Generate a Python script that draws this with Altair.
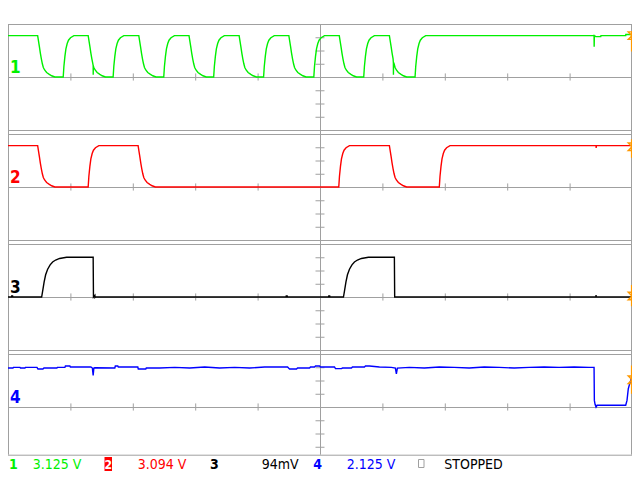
import altair as alt
import pandas as pd

# ---------------- data ----------------
# time: record sample index 0..625 (62.5 samples per division, 10 divisions)
# levels: vertical divisions above each channel's ground line (8 divisions per window)
N_SAMPLES = 625
DIV_T = 62.5

# edge shapes: (sample offset, fraction of swing)
FALL_DT = [0, 1.7, 2.7, 3.7, 4.7, 5.7, 7, 9, 11.7, 14, 17.3]
FALL_F = [1, 0.74, 0.58, 0.44, 0.32, 0.23, 0.17, 0.11, 0.065, 0.03, 0]
RISE_DT = [0, 0.7, 1.7, 2.7, 4, 5.3, 7.3, 10.7]
RISE_F = [0, 0.26, 0.5, 0.68, 0.81, 0.89, 0.95, 1]
SLOW_DT = [0, 1, 2.5, 4, 6, 8.5, 11, 14, 18, 25]
SLOW_F = [0, 0.15, 0.38, 0.56, 0.70, 0.81, 0.88, 0.93, 0.97, 1.0]

# channel 1 (green)
CH1_HIGH = 3.12
CH1_FALLS = [29.7, 80.3, 131, 181.3, 231.5, 281.3, 331.8, 382]
CH1_RISES = [55.3, 105.3, 156, 206, 256, 306.3, 356.3, 407.7]
CH1_EXTRA_T = [85.3, 85.35, 85.45, 386.0, 386.05, 386.15, 587.0, 587.1, 587.3,
               588.7, 593.7, 593.9, 618.7, 618.8]
CH1_EXTRA_V = [0.86, 0.17, 0.82, 1.05, 0.17, 0.95, 3.12, 2.28, 3.12,
               3.05, 3.05, 3.12, 3.12, 3.21]
CH1_END = 3.21

# channel 2 (red)
CH2_HIGH = 3.12
CH2_FALLS = [29.7, 130.3, 382]
CH2_RISES = [80.3, 331.3, 432]
CH2_EXTRA_T = [589.0, 589.1, 589.3]
CH2_EXTRA_V = [3.12, 2.95, 3.12]
CH2_END = 3.12

# channel 3 (black)
CH3_HIGH = 3.0
CH3_RISES = [33.7, 336]
CH3_FALLS = [85.3, 387]
CH3_EXTRA_T = [3.5, 3.7, 4.6, 4.8, 87.0, 87.1, 87.5, 278.5, 278.7, 279.6, 279.8,
               321.1, 321.3, 322.2, 322.4, 588.9, 589.0, 589.1, 589.3]
CH3_EXTRA_V = [0, 0.08, 0.08, 0, 0.13, -0.03, 0, 0, 0.08, 0.08, 0,
               0, 0.08, 0.08, 0, 0, 0.15, -0.05, 0]
CH3_END = 0.0

# channel 4 (blue)
CH4_T = [0, 5, 5.5, 12, 12.5, 17, 17.5, 29, 30, 35, 36, 49, 49.5, 57, 57.5, 62, 62.5,
         83, 84.5, 85.3, 86, 87, 107, 107.5, 110, 110.5, 130, 130.5, 138, 138.5, 152,
         167, 182, 197, 212, 227, 242, 257, 272, 280, 281, 282, 289, 290, 302, 303,
         307, 308, 312, 313, 327, 328, 334, 335, 344, 345, 357, 358, 362, 372, 384,
         388, 389, 390, 402, 417, 432, 447, 462, 477, 492, 507, 522, 537, 552, 567,
         582, 587, 587.3, 588, 589, 590, 618.7, 620, 621.3, 622.7, 624.3, 625]
CH4_V = [2.94, 2.94, 2.99, 2.99, 2.94, 2.94, 2.99, 2.99, 2.87, 2.87, 2.94, 2.94, 2.99,
         2.99, 3.09, 3.09, 3.02, 3.02, 2.94, 2.39, 2.94, 2.96, 2.94, 3.09, 3.09, 3.02,
         3.02, 2.87, 2.87, 2.94, 2.94, 2.99, 2.94, 3.02, 2.94, 2.99, 2.94, 3.02, 3.02,
         3.02, 2.94, 2.87, 2.87, 2.94, 2.94, 3.02, 3.02, 3.09, 3.09, 3.02, 3.02, 2.90,
         2.90, 2.94, 2.94, 3.02, 3.02, 3.09, 3.09, 3.02, 2.99, 2.94, 2.5, 2.94, 2.99,
         2.94, 3.02, 2.99, 2.94, 3.02, 2.99, 2.94, 2.99, 3.02, 2.99, 3.02, 2.99, 2.99,
         0.5, 0.2, 0.0, 0.13, 0.13, 0.5, 1.38, 1.76, 2.14, 2.39]

# end-of-record markers per channel: (level, marker bar low, marker bar high)
MARKER_LVL = [3.12, 3.04, 0.08, 2.06]
MARKER_LO = [1.93, 2.2, -0.7, 1.0]
MARKER_HI = [3.44, 3.6, 0.9, 3.14]

CH_LABELS = ["1", "2", "3", "4"]
STATUS = ["3.125 V", "3.094 V", "94mV", "2.125 V", "STOPPED"]

# ---------------- styling / layout ----------------
GREEN = "#00f000"
RED = "#ff0000"
BLACK = "#000000"
BLUE = "#0000ff"
ORANGE = "#ff9900"
GRID = "#a0a0a0"
COLORS = [GREEN, RED, BLACK, BLUE]
FONT = "Liberation Sans Narrow, DejaVu Sans Condensed, sans-serif"

PLOT_W, PLOT_H = 624, 448          # screen area below the 16px top band
PX_PER_DIV = 13.25                 # vertical pixels per division
WIN = 8                            # divisions per window
PITCH = 110 / PX_PER_DIV           # window pitch (window + 4px gap), in divisions
SCREEN = PLOT_H / PX_PER_DIV       # whole screen height in divisions
LAST_BOTTOM = 3.6                  # last window drawn a little shorter (room for status line)


def row(k, v):
    """screen position (divisions from the top) of level v in window k"""
    return k * PITCH + WIN / 2 - v


def build(start, high, events, extra_t, extra_v, end_level):
    pts = [(0.0, start)]
    for t, kind in events:
        if kind == "fall":
            pts += [(t + d, high * f) for d, f in zip(FALL_DT, FALL_F)]
        elif kind == "rise":
            pts += [(t + d, high * f) for d, f in zip(RISE_DT, RISE_F)]
        elif kind == "slow":
            pts += [(t + d, high * f) for d, f in zip(SLOW_DT, SLOW_F)]
        elif kind == "drop":
            pts += [(t, high), (t + 0.3, 0.0)]
    pts += list(zip(extra_t, extra_v))
    pts.append((float(N_SAMPLES), end_level))
    pts.sort(key=lambda p: p[0])
    return [p[0] for p in pts], [p[1] for p in pts]


traces = [
    build(CH1_HIGH, CH1_HIGH,
          sorted([(t, "fall") for t in CH1_FALLS] + [(t, "rise") for t in CH1_RISES]),
          CH1_EXTRA_T, CH1_EXTRA_V, CH1_END),
    build(CH2_HIGH, CH2_HIGH,
          sorted([(t, "fall") for t in CH2_FALLS] + [(t, "rise") for t in CH2_RISES]),
          CH2_EXTRA_T, CH2_EXTRA_V, CH2_END),
    build(0.0, CH3_HIGH,
          sorted([(t, "slow") for t in CH3_RISES] + [(t, "drop") for t in CH3_FALLS]),
          CH3_EXTRA_T, CH3_EXTRA_V, CH3_END),
    (CH4_T, CH4_V),
]

XS = alt.Scale(domain=[0, N_SAMPLES], nice=False, zero=False)
YS = alt.Scale(domain=[0, SCREEN], nice=False, zero=False, reverse=True)


def X(f="t"):
    return alt.X(f"{f}:Q", scale=XS, axis=None)


def Y(f="r"):
    return alt.Y(f"{f}:Q", scale=YS, axis=None)


layers = []

# window frames (horizontal edges) and ground lines
hl = []
for k in range(4):
    bottom = LAST_BOTTOM if k == 3 else WIN / 2
    hl += [row(k, WIN / 2), row(k, -bottom), row(k, 0)]
hdf = pd.DataFrame({"r": hl, "t": 0.0, "t2": float(N_SAMPLES)})
layers.append(alt.Chart(hdf).mark_rule(color=GRID, strokeWidth=1, yOffset=0.5).encode(
    x=X(), x2="t2:Q", y=Y()))

# continuous verticals: left, centre, right
vdf = pd.DataFrame({"t": [0.0, N_SAMPLES / 2, float(N_SAMPLES)],
                    "off": [0.5, 0.5, -0.5],
                    "r": 0.0, "r2": row(3, -LAST_BOTTOM)})
for _, rr in vdf.iterrows():
    layers.append(alt.Chart(pd.DataFrame([rr])).mark_rule(
        color=GRID, strokeWidth=1, xOffset=float(rr["off"])).encode(
        x=X(), y=Y(), y2="r2:Q"))

# minor ticks on ground lines and on the centre line
xt_rows = []
yt_rows = []
for k in range(4):
    for j in range(1, 10):
        xt_rows.append({"t": DIV_T * j, "r": row(k, 0.27), "r2": row(k, -0.27)})
    for d in [-3, -2, -1, 1, 2, 3]:
        yt_rows.append({"t": N_SAMPLES / 2 - 4.5, "t2": N_SAMPLES / 2 + 4.5,
                        "r": row(k, d)})
layers.append(alt.Chart(pd.DataFrame(xt_rows)).mark_rule(
    color=GRID, strokeWidth=1, xOffset=0.5).encode(x=X(), y=Y(), y2="r2:Q"))
layers.append(alt.Chart(pd.DataFrame(yt_rows)).mark_rule(
    color=GRID, strokeWidth=1, yOffset=0.5).encode(x=X(), x2="t2:Q", y=Y()))

# traces
for k, (tt, vv) in enumerate(traces):
    df = pd.DataFrame({"t": tt, "v": vv})
    df["r"] = [row(k, v) for v in vv]
    df["i"] = range(len(df))
    layers.append(alt.Chart(df).mark_line(
        color=COLORS[k], strokeWidth=1.4, interpolate="linear").encode(
        x=X(), y=Y(), order="i:Q"))

# end markers
mdf = pd.DataFrame({
    "t": float(N_SAMPLES),
    "r": [row(k, MARKER_LVL[k]) for k in range(4)],
    "lo": [row(k, MARKER_LO[k]) for k in range(4)],
    "hi": [row(k, MARKER_HI[k]) for k in range(4)],
})
layers.append(alt.Chart(mdf).mark_rule(color=ORANGE, strokeWidth=1.2, xOffset=-0.5).encode(
    x=X(), y=Y("lo"), y2="hi:Q"))
layers.append(alt.Chart(mdf).mark_point(
    shape="M-1,-1L1,-1L-1,1L1,1Z", size=56, filled=False, color=ORANGE,
    strokeWidth=1.4, opacity=1).encode(x=X(), y=Y()))

# channel labels at the left of each ground line
ldf = pd.DataFrame({"s": CH_LABELS, "r": [row(k, 0.3) for k in range(4)], "c": COLORS})
layers.append(alt.Chart(ldf).mark_text(
    font=FONT, fontSize=17, fontWeight="bold", align="left",
    baseline="alphabetic").encode(
    text="s:N", x=alt.value(2), y=Y(),
    color=alt.Color("c:N", scale=None)))

# status line
TY = 445
FS = 14


def txt(s, x, color, bold=False):
    return alt.Chart(pd.DataFrame({"s": [s]})).mark_text(
        font=FONT, fontSize=FS, fontWeight="bold" if bold else "normal",
        color=color, align="left", baseline="alphabetic").encode(
        text="s:N", x=alt.value(x), y=alt.value(TY))


layers += [
    txt("1", 1, GREEN, True),
    txt(STATUS[0], 24.7, GREEN),
    alt.Chart(pd.DataFrame({"a": [0]})).mark_rect(color=RED, opacity=1).encode(
        x=alt.value(96.5), x2=alt.value(104), y=alt.value(TY - 12),
        y2=alt.value(TY + 2)),
    alt.Chart(pd.DataFrame({"s": ["2"]})).mark_text(
        font=FONT, fontSize=12, fontWeight="bold", color="white",
        align="center", baseline="alphabetic").encode(
        text="s:N", x=alt.value(100.3), y=alt.value(TY - 0.5)),
    txt(STATUS[1], 129.7, RED),
    txt("3", 202, BLACK, True),
    txt(STATUS[2], 253.7, BLACK),
    txt("4", 305.3, BLUE, True),
    txt(STATUS[3], 338.7, BLUE),
    alt.Chart(pd.DataFrame({"a": [0]})).mark_rect(
        filled=False, stroke=GRID, strokeWidth=1).encode(
        x=alt.value(410.5), x2=alt.value(416), y=alt.value(TY - 9.5),
        y2=alt.value(TY - 1.5)),
    txt(STATUS[4], 436.3, BLACK),
]

chart = alt.layer(*layers).properties(
    width=PLOT_W, height=PLOT_H,
    autosize=alt.AutoSizeParams(type="none"),
    padding={"left": 0, "top": 16, "right": 0, "bottom": 0},
    background="white",
).configure_view(stroke=None)

chart.save("out.html", embed_options={"renderer": "svg", "actions": False})
